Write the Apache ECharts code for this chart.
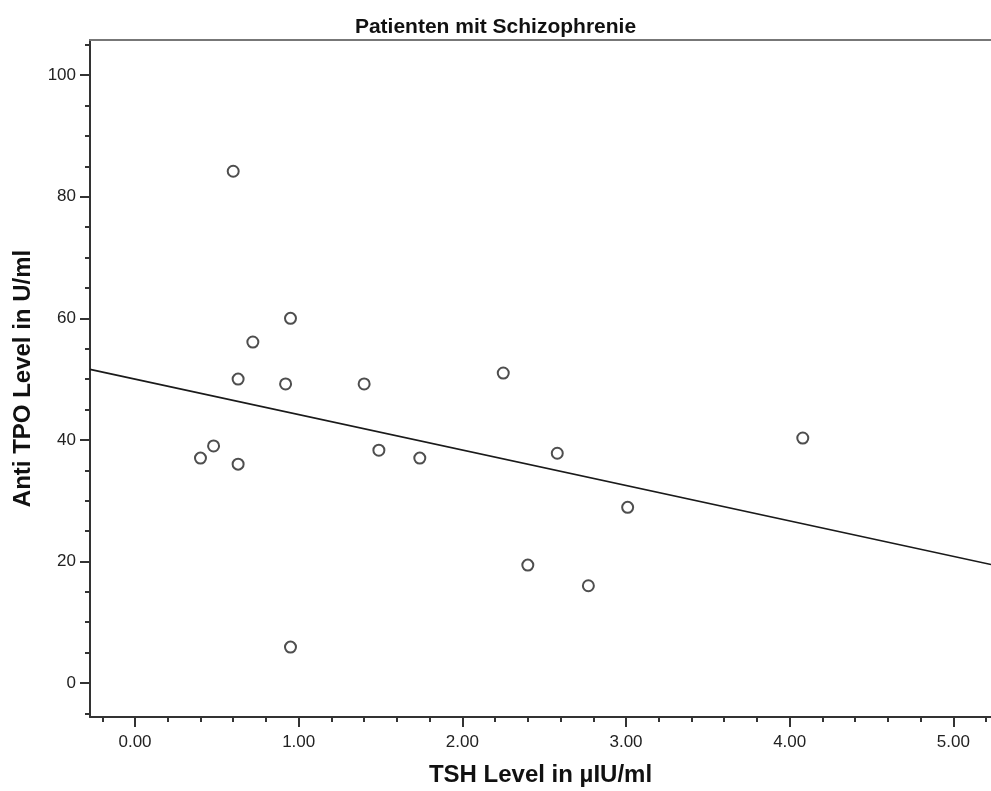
<!DOCTYPE html>
<html>
<head>
<meta charset="utf-8">
<script src="https://cdn.jsdelivr.net/npm/echarts@6/dist/echarts.min.js"></script>
<style>
  html, body { margin: 0; padding: 0; background: #fff; }
  #chart { width: 991px; height: 791px; }
</style>
</head>
<body>
<div id="chart"></div>
<script>
// values
var tshValues = [0.60, 0.95, 0.72, 0.63, 0.92, 1.40, 2.25, 0.48, 0.40, 0.63, 1.49, 1.74, 2.58, 4.08, 3.01, 2.40, 2.77, 0.95];
var tpoValues = [84.2, 60.0, 56.1, 50.0, 49.2, 49.2, 51.0, 39.0, 37.0, 36.0, 38.3, 37.0, 37.8, 40.3, 28.9, 19.4, 16.0, 5.9];
var fitLineX = [-0.275, 5.23];
var fitLineY = [51.6, 19.5];
var xMajorTicks = [0, 1, 2, 3, 4, 5];
var xMinorTicks = [-0.2, 0.2, 0.4, 0.6, 0.8, 1.2, 1.4, 1.6, 1.8, 2.2, 2.4, 2.6, 2.8, 3.2, 3.4, 3.6, 3.8, 4.2, 4.4, 4.6, 4.8, 5.2];
var yMajorTicks = [0, 20, 40, 60, 80, 100];
var yMinorTicks = [-5, 5, 10, 15, 25, 30, 35, 45, 50, 55, 65, 70, 75, 85, 90, 95, 105];

var points = [];
for (var i = 0; i < tshValues.length; i++) {
  points.push([tshValues[i], tpoValues[i]]);
}
var fitLine = [[fitLineX[0], fitLineY[0]], [fitLineX[1], fitLineY[1]]];

var chart = echarts.init(document.getElementById('chart'));
var font = 'Liberation Sans, Arial, sans-serif';
var xRange = { min: -0.275, max: 5.23 };
var yRange = { min: -5.6, max: 105.8 };
var axisColor = '#333';

chart.setOption({
  animation: false,
  backgroundColor: '#fff',
  title: {
    text: 'Patienten mit Schizophrenie',
    left: 'center',
    top: 12,
    textStyle: { fontFamily: font, fontSize: 21, fontWeight: 'bold', color: '#111' }
  },
  grid: { left: 90, right: 0, top: 40, bottom: 74, containLabel: false, outerBoundsMode: 'none' },
  xAxis: [
    {
      type: 'value', min: xRange.min, max: xRange.max, position: 'bottom',
      name: 'TSH Level in µIU/ml', nameLocation: 'middle', nameGap: 46,
      nameTextStyle: { fontFamily: font, fontSize: 24, fontWeight: 'bold', color: '#111' },
      axisLine: { onZero: false, lineStyle: { color: axisColor, width: 2 } },
      axisTick: { show: true, length: 10, lineStyle: { color: axisColor, width: 2 }, customValues: xMajorTicks },
      axisLabel: {
        fontFamily: font, fontSize: 17, color: '#222', margin: 17, customValues: xMajorTicks,
        formatter: function (v) { return v.toFixed(2); }
      },
      splitLine: { show: false }
    },
    {
      type: 'value', min: xRange.min, max: xRange.max, position: 'bottom',
      axisLine: { show: false, onZero: false },
      axisTick: { show: true, length: 5, lineStyle: { color: axisColor, width: 2 }, customValues: xMinorTicks },
      axisLabel: { show: false },
      splitLine: { show: false }
    },
    {
      type: 'value', min: xRange.min, max: xRange.max, position: 'top',
      axisLine: { show: true, onZero: false, lineStyle: { color: '#777', width: 2 } },
      axisTick: { show: false },
      axisLabel: { show: false },
      splitLine: { show: false }
    }
  ],
  yAxis: [
    {
      type: 'value', min: yRange.min, max: yRange.max, position: 'left',
      name: 'Anti TPO Level in U/ml', nameLocation: 'middle', nameGap: 55,
      nameTextStyle: { fontFamily: font, fontSize: 24, fontWeight: 'bold', color: '#111' },
      axisLine: { show: true, onZero: false, lineStyle: { color: axisColor, width: 2 } },
      axisTick: { show: true, length: 10, lineStyle: { color: axisColor, width: 2 }, customValues: yMajorTicks },
      axisLabel: { fontFamily: font, fontSize: 17, color: '#222', margin: 14, customValues: yMajorTicks },
      splitLine: { show: false }
    },
    {
      type: 'value', min: yRange.min, max: yRange.max, position: 'left',
      axisLine: { show: false, onZero: false },
      axisTick: { show: true, length: 5, lineStyle: { color: axisColor, width: 2 }, customValues: yMinorTicks },
      axisLabel: { show: false },
      splitLine: { show: false }
    }
  ],
  series: [
    {
      name: 'Regression', type: 'line', data: fitLine,
      xAxisIndex: 0, yAxisIndex: 0,
      symbol: 'none', lineStyle: { color: '#1a1a1a', width: 1.6 }, z: 2
    },
    {
      name: 'Patienten', type: 'scatter', data: points,
      xAxisIndex: 0, yAxisIndex: 0,
      symbol: 'circle', symbolSize: 11,
      itemStyle: { color: '#fff', borderColor: '#222', borderWidth: 2 }, z: 3
    }
  ]
});
</script>
</body>
</html>
